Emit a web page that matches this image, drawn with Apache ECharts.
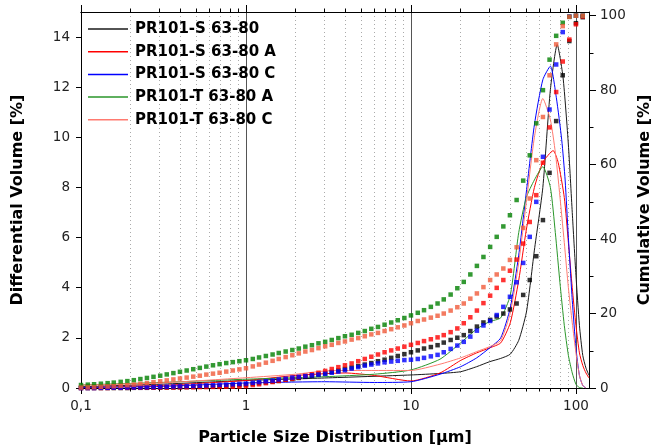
<!DOCTYPE html>
<html>
<head>
<meta charset="utf-8">
<script src="https://cdn.jsdelivr.net/npm/echarts@6/dist/echarts.min.js"></script>
<style>
html,body{margin:0;padding:0;background:#fff}
#chart{width:653px;height:448px}
</style>
</head>
<body>
<div id="chart"></div>
<script>
// series names
var names = ['PR101-S 63-80', 'PR101-S 63-80 A', 'PR101-S 63-80 C', 'PR101-T 63-80 A', 'PR101-T 63-80 C'];

// axis ticks
var majorX = [0.1, 1, 10, 100];
var minorX = [0.2,0.3,0.4,0.5,0.6,0.7,0.8,0.9, 2,3,4,5,6,7,8,9, 20,30,40,50,60,70,80,90];
var leftTicks = [0,2,4,6,8,10,12,14];
var rightTicks = [0,20,40,60,80,100];
var rightMinor = [10,30,50,70,90];

// differential volume (solid lines), size in um / value in %
var diffS_x  = [0.1,0.3,1,3,10,15,20,25,30,35,40,45,50,53,56,63,70,77,83.5,90,95,100,105,110,115,120];
var diffS_y  = [0.05,0.15,0.3,0.4,0.52,0.58,0.65,0.85,1.05,1.18,1.35,1.9,3.0,4.2,5.5,8.0,11.9,13.7,12.4,9.7,7.0,4.5,2.5,1.3,0.8,0.5];
var diffSA_x = [0.1,0.3,1,2,4,6,10,15,20,25,30,35,40,45,50,56,63,72.8,78,85,90,95,100,105,110,115,120];
var diffSA_y = [0.02,0.1,0.3,0.5,0.6,0.5,0.28,0.6,1.1,1.4,1.6,1.8,2.6,4.3,6.3,8.0,9.0,9.47,9.0,7.6,5.8,4.0,2.5,1.4,0.9,0.6,0.4];
var diffSC_x = [0.1,0.3,1,3,6,10,15,20,25,30,35,40,45,50,56,63,70,76,82,86,90,95,100,105,110,115];
var diffSC_y = [0.02,0.06,0.2,0.25,0.22,0.25,0.55,0.85,1.2,1.6,2.0,3.2,5.3,7.8,10.5,12.3,12.84,11.6,9.9,8.3,6.0,3.5,1.6,0.5,0.1,0];
var diffTA_x = [0.1,0.3,1,3,6,10,15,20,25,30,35,40,45,50,56,63,70,75,80,85,90,95,100,105,110];
var diffTA_y = [0.12,0.22,0.35,0.45,0.55,0.72,1.15,1.8,2.35,2.65,2.8,3.7,6.2,7.6,8.3,8.83,8.0,6.2,4.2,2.5,1.3,0.6,0.15,0.02,0];
var diffTC_x = [0.1,0.3,1,2,3,5,10,15,20,25,30,35,40,45,50,56,63,70,75,79,85,90,95,100,105,110,115];
var diffTC_y = [0.12,0.2,0.41,0.55,0.68,0.7,0.7,0.95,1.2,1.45,1.65,1.9,3.0,5.0,7.4,10.0,11.55,10.7,9.4,8.0,5.8,4.0,2.6,1.4,0.5,0.1,0];

// cumulative volume (squares), measurement bins in um
var bins = [0.1,0.11,0.12,0.132,0.145,0.158,0.174,0.191,0.209,0.229,0.251,0.275,0.302,0.331,0.363,0.398,0.437,0.479,0.525,0.575,0.631,0.692,0.759,0.832,0.912,
  1,1.1,1.2,1.32,1.45,1.58,1.74,1.91,2.09,2.29,2.51,2.75,3.02,3.31,3.63,3.98,4.37,4.79,5.25,5.75,6.31,6.92,7.59,8.32,9.12,
  10,11,12,13.2,14.5,15.8,17.4,19.1,20.9,22.9,25.1,27.5,30.2,33.1,36.3,39.8,43.7,47.9,52.5,57.5,63.1,69.2,75.9,83.2,91.2,
  100,110];
var cumS = [0,0,0,0,0,0,0,0,0.05, 0.05,0.05,0.1,0.1,0.15,0.15,0.2, 0.25,0.3,0.35,0.4,0.45,0.5,0.6,0.7,0.8,0.9,
  1.1,1.3,1.5,1.7,1.9,2.2,2.4,2.7,3.0,3.3,3.6,3.9,4.3,4.7,5.1,5.5,5.9,6.3,6.7,7.2,7.6,8.1,8.6,9.1,9.6,
  10.1,10.6,11.0,11.5,12.2,12.9,13.5,14.2,15.3,16.5,17.6,18.3,19.2,20.0,21.1,22.7,25.0,29.0,35.4,45.1,57.8,71.7,84.0,93.2,98.0,99.6];
var cumSA = [0,0,0,0,0,0.05,0.05,0.05,0.1,0.1,0.1,0.1,0.15,0.15,0.15,0.2,0.2,0.2,0.25,0.25,0.3,0.3,0.35,0.35,0.4,0.5,
  0.8,1.0,1.3,1.6,1.9,2.2,2.5,2.9,3.3,3.7,4.1,4.6,5.1,5.6,6.1,6.6,7.2,7.8,8.4,9.0,9.6,10.1,10.6,11.1,11.6,
  12.1,12.6,13.1,13.6,14.2,15.0,16.0,17.4,19.0,20.8,22.8,24.8,26.9,29.0,31.5,34.5,38.8,44.6,51.8,60.5,70.0,79.5,87.7,93.6,97.7,99.8];
var cumSC = [0,0,0,0.05,0.05,0.1,0.1,0.15,0.15,0.2,0.2,0.25,0.3,0.35,0.4,0.45,0.5,0.55,0.6,0.7,0.75,0.85,0.9,1.0,1.1,1.2,
  1.4,1.6,1.8,2.0,2.3,2.5,2.8,3.0,3.2,3.4,3.6,3.8,4.1,4.4,4.8,5.2,5.6,6.0,6.3,6.6,6.9,7.1,7.3,7.5,7.6,
  7.8,8.1,8.5,8.9,9.6,10.5,11.4,12.4,13.8,15.4,16.8,18.0,19.6,21.8,24.5,28.4,33.6,40.6,50.0,62.1,74.8,86.9,95.6,99.8,100,100];
var cumTA = [0.8,0.9,1.0,1.15,1.3,1.45,1.65,1.85,2.1,2.4,2.7,3.0,3.3,3.65,4.0,4.35,4.7,5.05,5.4,5.75,6.1,6.4,6.7,6.95,7.2,7.45,
  7.8,8.2,8.6,9.0,9.4,9.8,10.2,10.6,11.1,11.5,12.0,12.4,12.9,13.4,13.9,14.3,14.8,15.3,15.9,16.4,17.0,17.6,18.2,18.8,19.5,
  20.2,20.9,21.8,22.7,23.8,25.1,26.8,28.5,30.5,32.8,35.2,37.9,40.6,43.4,46.4,50.5,55.7,62.5,71.1,80.0,88.2,94.6,98.1,99.7,100,100];
var cumTC = [0.1,0.15,0.2,0.3,0.4,0.5,0.6,0.75,0.9,1.1,1.3,1.55,1.8,2.05,2.3,2.55,2.8,3.05,3.3,3.6,3.85,4.1,4.4,4.7,5.0,5.3,
  5.8,6.3,6.8,7.3,7.8,8.3,8.8,9.3,9.8,10.2,10.7,11.2,11.6,12.1,12.5,13.0,13.4,13.9,14.4,14.8,15.3,15.8,16.3,16.8,17.4,
  18.0,18.4,18.9,19.4,20.0,20.8,21.7,22.7,24.0,25.4,27.1,29.0,30.5,32.1,34.4,37.8,43.0,50.9,61.2,72.8,84.0,92.3,97.2,99.7,100,100];

var lineColors = ['#1a1a1a', '#ff0000', '#0000ff', '#2a962a', '#ff7a70'];
var markColors = ['#000000', '#ff0000', '#0000ff', '#008000', '#f05a3a'];
var diffX = [diffS_x, diffSA_x, diffSC_x, diffTA_x, diffTC_x];
var diffY = [diffS_y, diffSA_y, diffSC_y, diffTA_y, diffTC_y];
var cums = [cumS, cumSA, cumSC, cumTA, cumTC];

var FONT = '"DejaVu Sans", sans-serif';

function zip(xs, ys){
	var out = [];
	for (var i = 0; i < xs.length; i++) out.push([xs[i], ys[i]]);
	return out;
}

function xAx(pos, ticks, len, label, split){
	return {
		type: 'log', logBase: 10, min: 0.1, max: 120, position: pos,
		axisLine: {show: true, onZero: false, lineStyle: {color: '#000', width: 1}},
		axisTick: {show: true, inside: false, length: len, customValues: ticks, lineStyle: {color: '#000'}},
		axisLabel: {show: label, customValues: ticks, margin: 11, fontFamily: FONT, fontSize: 13.5, color: '#222',
			formatter: function(v){ return String(+v.toPrecision(6)).replace('.', ','); }},
		splitLine: split,
		minorTick: {show: false}
	};
}

var titleStyle = {fontFamily: FONT, fontWeight: 'bold', fontSize: 16, color: '#000'};

var series = [];
for (var i = 0; i < names.length; i++) {
	series.push({
		type: 'line', name: names[i], data: zip(diffX[i], diffY[i]),
		xAxisIndex: 0, yAxisIndex: 0,
		symbol: 'none', showSymbol: false, smooth: 0.2,
		lineStyle: {width: 1, color: lineColors[i]}, itemStyle: {color: lineColors[i]}, z: 3
	});
}
for (var j = 0; j < names.length; j++) {
	series.push({
		type: 'scatter', name: names[j] + ' cum', data: zip(bins, cums[j]),
		xAxisIndex: 0, yAxisIndex: 1,
		symbol: 'rect', symbolSize: 4.5,
		itemStyle: {color: markColors[j]}, z: 4
	});
}

var chart = echarts.init(document.getElementById('chart'));
chart.setOption({
	animation: false,
	backgroundColor: '#fff',
	grid: {left: 81, right: 64, top: 12, bottom: 60, containLabel: false, outerBoundsMode: 'none'},
	legend: {
		orient: 'vertical', left: 83, top: 16, icon: 'rect', itemWidth: 40, itemHeight: 1.5, itemGap: 6.7,
		data: names,
		textStyle: {fontFamily: FONT, fontWeight: 'bold', fontSize: 15, lineHeight: 16, color: '#000', padding: [0, 0, 0, 2]}
	},
	xAxis: [
		Object.assign(xAx('bottom', majorX, 6, true, {show: true, lineStyle: {color: '#555', width: 1, type: 'solid'}}), {
			name: 'Particle Size Distribution [\u03bcm]', nameLocation: 'middle', nameGap: 42,
			nameTextStyle: titleStyle
		}),
		xAx('bottom', minorX, 3.5, false, {show: true, lineStyle: {color: '#aaa', width: 1, type: [1, 3]}}),
		xAx('top', majorX, 7, false, {show: false}),
		xAx('top', minorX, 3.5, false, {show: false})
	],
	yAxis: [
		{
			type: 'value', min: 0, max: 15, position: 'left',
			name: 'Differential Volume [%]', nameLocation: 'middle', nameGap: 55, nameRotate: 90,
			nameTextStyle: titleStyle,
			axisLine: {show: true, lineStyle: {color: '#000'}},
			axisTick: {show: true, length: 5, customValues: leftTicks, lineStyle: {color: '#000'}},
			axisLabel: {customValues: leftTicks, margin: 11, fontFamily: FONT, fontSize: 13.5, color: '#222'},
			splitLine: {show: false}
		},
		{
			type: 'value', min: 0, max: 101, position: 'right',
			name: 'Cumulative Volume [%]', nameLocation: 'middle', nameGap: 48, nameRotate: 90,
			nameTextStyle: titleStyle,
			axisLine: {show: true, lineStyle: {color: '#000'}},
			axisTick: {show: true, length: 7, customValues: rightTicks, lineStyle: {color: '#000'}},
			axisLabel: {customValues: rightTicks, margin: 11, fontFamily: FONT, fontSize: 13.5, color: '#222'},
			splitLine: {show: false}
		},
		{
			type: 'value', min: 0, max: 101, position: 'right',
			axisLine: {show: false},
			axisTick: {show: true, length: 4.5, customValues: rightMinor, lineStyle: {color: '#000'}},
			axisLabel: {show: false},
			splitLine: {show: false}
		}
	],
	series: series
});
</script>
</body>
</html>
